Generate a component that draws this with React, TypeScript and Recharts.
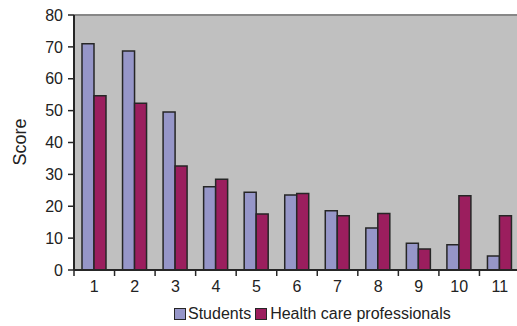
import React from 'react';
import { BarChart, Bar, XAxis, YAxis, CartesianGrid, Legend, ReferenceLine } from 'recharts';

const categories = ['1', '2', '3', '4', '5', '6', '7', '8', '9', '10', '11'];
const students = [71, 68.7, 49.6, 26.1, 24.4, 23.5, 18.6, 13.2, 8.4, 7.9, 4.4];
const professionals = [54.7, 52.3, 32.6, 28.5, 17.6, 24, 17, 17.7, 6.6, 23.3, 17];
const yTicks = [0, 10, 20, 30, 40, 50, 60, 70, 80];

const FONT = '"Liberation Sans", Arial, Helvetica, sans-serif';
const STUDENT_COLOR = '#9696C8';
const PRO_COLOR = '#9B1E5E';
const EDGE = '#262626';

const CHART_W = 520;
const CHART_H = 326;
const Y_AXIS_W = 74;
const BAND = (CHART_W - Y_AXIS_W) / categories.length;

const data = categories.map((c, i) => ({
  name: c,
  students: students[i],
  professionals: professionals[i],
}));

// excel style: tick marks sit between the categories, not under them
const XTick = (props: any) => {
  const { x, y, payload } = props;
  const axisY = y - 11;
  const left = x - BAND / 2;
  return (
    <g>
      <line x1={left} x2={left} y1={axisY} y2={axisY + 6} stroke={EDGE} strokeWidth={1.5} />
      <text x={x} y={y} dy="0.71em" textAnchor="middle" fontSize={16} fill="#222" fontFamily={FONT}>
        {payload.value}
      </text>
    </g>
  );
};

const LegendBox = () => (
  <div style={{ display: 'flex', alignItems: 'center', height: 26, paddingTop: 2, boxSizing: 'border-box', fontFamily: FONT, fontSize: 16, color: '#222' }}>
    <span style={{ width: 10, height: 10, background: STUDENT_COLOR, border: `1.5px solid ${EDGE}`, marginRight: 2 }} />
    <span style={{ marginRight: 4 }}>Students</span>
    <span style={{ width: 10, height: 10, background: PRO_COLOR, border: `1.5px solid ${EDGE}`, marginRight: 3 }} />
    <span>Health care professionals</span>
  </div>
);

export default function App() {
  return (
    <div style={{ position: 'fixed', left: 0, top: 0, width: 517, height: 326, overflow: 'hidden', background: '#fff' }}>
      <BarChart
        width={CHART_W}
        height={CHART_H}
        data={data}
        margin={{ top: 15, right: 0, left: 0, bottom: 0 }}
        barGap={0}
        barSize={12}
      >
        <CartesianGrid horizontal={false} vertical={false} fill="#C0C0C0" />
        <ReferenceLine y={80} stroke="#878787" strokeWidth={2} />
        <XAxis
          dataKey="name"
          height={30}
          tickLine={false}
          tickSize={6}
          tickMargin={5}
          axisLine={{ stroke: EDGE, strokeWidth: 2 }}
          tick={<XTick />}
          interval={0}
        />
        <YAxis
          width={Y_AXIS_W}
          domain={[0, 80]}
          ticks={yTicks}
          interval={0}
          tickSize={6}
          tickMargin={5}
          tickLine={{ stroke: EDGE, strokeWidth: 1.5 }}
          axisLine={{ stroke: EDGE, strokeWidth: 2 }}
          tick={{ fontSize: 16, fill: '#222', fontFamily: FONT }}
          label={{
            content: () => (
              <text x={20} y={142} transform="rotate(-90 20 142)" textAnchor="middle" dominantBaseline="central" fontSize={18} fill="#222" fontFamily={FONT}>
                Score
              </text>
            ),
          }}
        />
        <Legend verticalAlign="bottom" content={<LegendBox />} wrapperStyle={{ left: 174, width: 330 }} />
        <Bar dataKey="students" fill={STUDENT_COLOR} stroke={EDGE} strokeWidth={1.5} isAnimationActive={false} />
        <Bar dataKey="professionals" fill={PRO_COLOR} stroke={EDGE} strokeWidth={1.5} isAnimationActive={false} />
      </BarChart>
    </div>
  );
}
